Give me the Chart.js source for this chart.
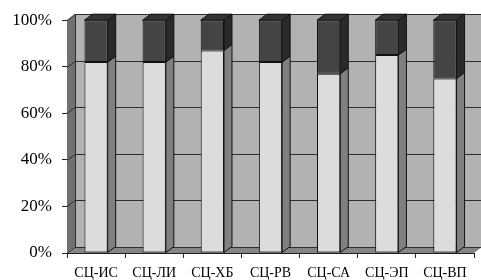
<!DOCTYPE html>
<html>
<head>
<meta charset="utf-8">
<script src="https://cdn.jsdelivr.net/npm/chart.js@4"></script>
<style>
  html, body { margin: 0; padding: 0; background: #fff; }
  #wrap { width: 481px; height: 280px; }
</style>
</head>
<body>
<div id="wrap"><canvas id="myChart" width="481" height="280"></canvas></div>
<script>
const categories = ['СЦ-ИС', 'СЦ-ЛИ', 'СЦ-ХБ', 'СЦ-РВ', 'СЦ-СА', 'СЦ-ЭП', 'СЦ-ВП'];
const lowerShare = [82, 82, 87, 82, 77, 85, 75];
const upperShare = [18, 18, 13, 18, 23, 15, 25];
const yTicks = [0, 20, 40, 60, 80, 100];

const dx = 8, dy = -6; // depth of the fake 3d
const serif = "'Liberation Serif', 'Times New Roman', serif";

function poly(ctx, pts, fill, stroke) {
    ctx.beginPath();
    ctx.moveTo(pts[0][0], pts[0][1]);
    for (let i = 1; i < pts.length; i++) ctx.lineTo(pts[i][0], pts[i][1]);
    ctx.closePath();
    if (fill) { ctx.fillStyle = fill; ctx.fill(); }
    if (stroke) { ctx.strokeStyle = stroke; ctx.lineWidth = 1; ctx.stroke(); }
}

const walls = {
    id: 'walls',
    beforeDatasetsDraw(chart) {
        const { ctx, chartArea: a, scales: { y } } = chart;
        ctx.save();
        // back wall
        ctx.fillStyle = '#b2b2b2';
        ctx.fillRect(a.left + dx, a.top + dy, a.right - a.left, a.bottom - a.top);
        // left wall
        poly(ctx, [[a.left, a.top], [a.left + dx, a.top + dy], [a.left + dx, a.bottom + dy], [a.left, a.bottom]], '#707070');
        // floor
        poly(ctx, [[a.left, a.bottom], [a.left + dx, a.bottom + dy], [a.right + dx, a.bottom + dy], [a.right, a.bottom]], '#858585');
        // gridlines
        ctx.strokeStyle = '#2e2e2e';
        ctx.lineWidth = 1;
        yTicks.forEach(v => {
            const py = Math.round(y.getPixelForValue(v)) + 0.5;
            ctx.beginPath();
            ctx.moveTo(a.left, py);
            ctx.lineTo(a.left + dx, py + dy);
            ctx.lineTo(a.right + dx, py + dy);
            ctx.stroke();
        });
        ctx.beginPath();
        ctx.moveTo(a.left + dx + 0.5, a.top + dy);
        ctx.lineTo(a.left + dx + 0.5, a.bottom + dy);
        ctx.stroke();
        ctx.restore();
    },
    afterDatasetsDraw(chart) {
        const { ctx } = chart;
        const sideColors = ['#808080', '#2a2a2a'];
        const last = chart.data.datasets.length - 1;
        ctx.save();
        chart.data.datasets.forEach((ds, di) => {
            chart.getDatasetMeta(di).data.forEach(bar => {
                const { x, y, base, width } = bar.getProps(['x', 'y', 'base', 'width'], true);
                const r = x + width / 2, l = x - width / 2;
                poly(ctx, [[r, y], [r + dx, y + dy], [r + dx, base + dy], [r, base]], sideColors[di], '#111');
                if (di === last) {
                    poly(ctx, [[l, y], [l + dx, y + dy], [r + dx, y + dy], [r, y]], '#333333', '#111');
                }
            });
        });
        ctx.restore();
    }
};

new Chart(document.getElementById('myChart'), {
    type: 'bar',
    data: {
        labels: categories,
        datasets: [{
            label: 'lower',
            data: lowerShare,
            backgroundColor: '#dcdcdc',
            borderColor: '#111',
            borderWidth: 1,
            borderSkipped: false,
            categoryPercentage: 1,
            barPercentage: 0.4
        }, {
            label: 'upper',
            data: upperShare,
            backgroundColor: '#444444',
            borderColor: '#111',
            borderWidth: 1,
            borderSkipped: false,
            categoryPercentage: 1,
            barPercentage: 0.4
        }]
    },
    options: {
        responsive: false,
        animation: false,
        devicePixelRatio: 1,
        layout: { padding: { top: 18, right: 7, left: 0, bottom: 0 } },
        plugins: {
            legend: { display: false },
            tooltip: { enabled: false }
        },
        scales: {
            x: {
                stacked: true,
                grid: { drawOnChartArea: false, tickLength: 5, color: '#222' },
                border: { display: true, color: '#222' },
                ticks: { color: '#000', padding: 7, font: { family: serif, size: 14 } },
                afterFit(scale) { scale.height = 27; }
            },
            y: {
                stacked: true,
                min: 0,
                max: 100,
                grid: { drawOnChartArea: false, tickLength: 5, color: '#222' },
                border: { display: true, color: '#222' },
                ticks: {
                    stepSize: 20,
                    padding: 10,
                    color: '#000',
                    font: { family: serif, size: 17 },
                    callback: v => v + '%'
                },
                afterFit(scale) { scale.width = 67; }
            }
        }
    },
    plugins: [walls]
});
</script>
</body>
</html>
